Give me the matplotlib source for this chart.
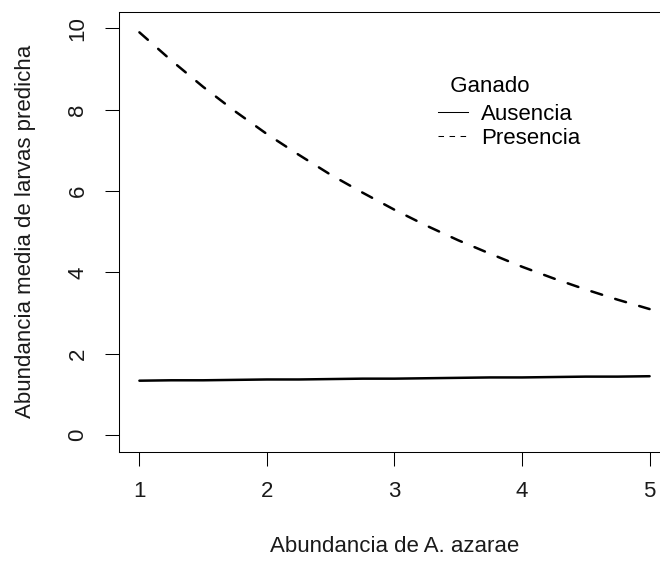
import matplotlib
matplotlib.use("Agg")
import matplotlib.pyplot as plt
from matplotlib.lines import Line2D

plt.rcParams["font.family"] = ["Liberation Sans", "DejaVu Sans"]

# valores (abundancia de A. azarae vs larvas predichas)
abund_azarae = [1.0, 1.25, 1.5, 1.75, 2.0, 2.25, 2.5, 2.75, 3.0,
                3.25, 3.5, 3.75, 4.0, 4.25, 4.5, 4.75, 5.0]
larvas_ausencia = [1.34, 1.35, 1.35, 1.36, 1.37, 1.37, 1.38, 1.39, 1.39,
                   1.40, 1.41, 1.42, 1.42, 1.43, 1.44, 1.44, 1.45]
larvas_presencia = [9.90, 9.21, 8.56, 7.96, 7.40, 6.89, 6.40, 5.96, 5.54,
                    5.15, 4.79, 4.46, 4.14, 3.85, 3.58, 3.33, 3.10]
x_ticks = [1, 2, 3, 4, 5]
y_ticks = [0, 2, 4, 6, 8, 10]
grupos = ["Ausencia", "Presencia"]

fig = plt.figure(figsize=(6.6, 5.62), dpi=100)
ax = fig.add_axes([119 / 660, 1 - 451.5 / 562, 551 / 660, 439.5 / 562])

ax.plot(abund_azarae, larvas_ausencia, color="black", lw=1.8,
        solid_capstyle="round")
ax.plot(abund_azarae, larvas_presencia, color="black", lw=1.8,
        ls=(0, (4.5, 5.5)), dash_capstyle="round")

ax.set_xlim(0.84, 5.16)
ax.set_ylim(-0.4, 10.4)
ax.set_xticks(x_ticks)
ax.set_yticks(y_ticks)
ax.tick_params(direction="out", length=10, width=0.75, labelsize=16,
               color="black", labelcolor="#1a1a1a")
ax.tick_params(axis="x", pad=11)
ax.tick_params(axis="y", pad=12, labelrotation=90)
for lab in ax.get_yticklabels():
    lab.set_va("center")
for s in ax.spines.values():
    s.set_linewidth(0.75)

ax.set_xlabel("Abundancia de A. azarae", fontsize=16, color="#1a1a1a", va="center")
ax.xaxis.set_label_coords(0.5, -0.217)
ax.set_ylabel("Abundancia media de larvas predicha", fontsize=16,
              color="#1a1a1a", va="center")
ax.yaxis.set_label_coords(-0.169, 0.5)

handles = [Line2D([], [], color="black", lw=0.75),
           Line2D([], [], color="black", lw=0.75, ls=(0, (5.3, 5.3)))]
leg = ax.legend(handles, grupos, title="  Ganado", frameon=False,
                loc="upper left", bbox_to_anchor=(0.579, 0.8537),
                borderpad=0, borderaxespad=0, handlelength=1.34,
                handletextpad=0.59, labelspacing=0.14, fontsize=16,
                title_fontsize=16, alignment="left")
# un poco mas de aire entre el titulo y las entradas
leg._legend_box.sep = 4.6

fig.savefig("out.png", dpi=100)
